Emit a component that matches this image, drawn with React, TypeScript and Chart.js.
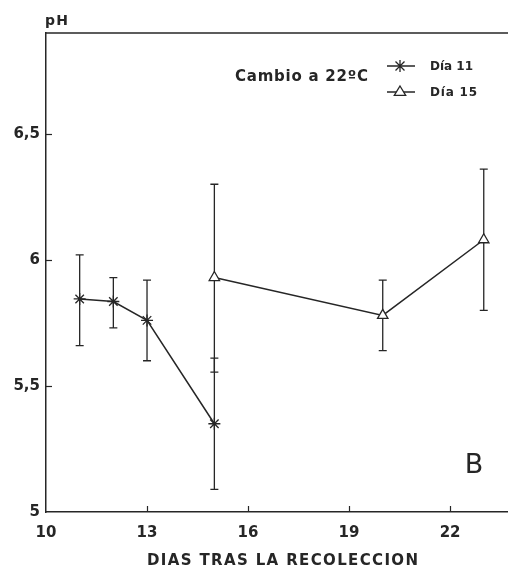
import React, { useEffect, useRef } from "react";
import { Chart, registerables } from "chart.js";

Chart.register(...registerables);

// ---- data ----
const xTickValues = [10, 13, 16, 19, 22];
const yTickValues = [5, 5.5, 6, 6.5];

const seriesNames = ["Día 11", "Día 15"];

const days11 = [11, 12, 13, 15];
const ph11 = [5.845, 5.835, 5.76, 5.35];
const ph11Low = [5.66, 5.73, 5.6, 5.09];
const ph11High = [6.02, 5.93, 5.92, 5.61];

const days15 = [15, 20, 23];
const ph15 = [5.93, 5.78, 6.08];
const ph15Low = [5.555, 5.64, 5.8];
const ph15High = [6.3, 5.92, 6.36];

const legendTitle = "Cambio a 22ºC";
const yAxisLabel = "pH";
const xAxisLabel = "DIAS TRAS LA RECOLECCION";
const panelLetter = "B";

const INK = "#262626";
const FONT = '"DejaVu Sans", "Liberation Sans", Arial, sans-serif';

function fitText(ctx: CanvasRenderingContext2D, text: string, x: number, y: number, width: number) {
  (ctx as any).letterSpacing = "0px";
  const w = ctx.measureText(text).width;
  const n = Math.max(1, text.length - 1);
  const ls = (width - w) / n;
  (ctx as any).letterSpacing = ls.toFixed(2) + "px";
  ctx.textAlign = "left";
  ctx.fillText(text, x, y);
  (ctx as any).letterSpacing = "0px";
}

function drawStar(ctx: CanvasRenderingContext2D, x: number, y: number, r: number) {
  ctx.beginPath();
  ctx.moveTo(x, y - r);
  ctx.lineTo(x, y + r);
  const d = r * 0.75;
  ctx.moveTo(x - d, y - d);
  ctx.lineTo(x + d, y + d);
  ctx.moveTo(x - d, y + d);
  ctx.lineTo(x + d, y - d);
  ctx.stroke();
}

function drawTriangle(ctx: CanvasRenderingContext2D, x: number, y: number, r: number) {
  ctx.beginPath();
  ctx.moveTo(x, y - r);
  ctx.lineTo(x + r * 0.95, y + r * 0.55);
  ctx.lineTo(x - r * 0.95, y + r * 0.55);
  ctx.closePath();
  ctx.fillStyle = "#fff";
  ctx.fill();
  ctx.stroke();
}

const decorPlugin = {
  id: "decor",
  beforeDraw(chart: any) {
    const { ctx, width, height } = chart;
    ctx.save();
    ctx.fillStyle = "#fff";
    ctx.fillRect(0, 0, width, height);
    ctx.restore();
  },
  beforeDatasetsDraw(chart: any) {
    const { ctx, chartArea, scales } = chart;
    const xs = scales.x;
    const ys = scales.y;
    ctx.save();
    ctx.strokeStyle = INK;
    ctx.lineWidth = 1.5;
    // top border
    ctx.beginPath();
    ctx.moveTo(chartArea.left, chartArea.top);
    ctx.lineTo(chartArea.right, chartArea.top);
    ctx.stroke();
    // inward ticks
    ctx.lineWidth = 1.2;
    xTickValues.forEach((v) => {
      if (v === xTickValues[0]) return;
      const px = Math.round(xs.getPixelForValue(v)) + 0.5;
      ctx.beginPath();
      ctx.moveTo(px, chartArea.bottom);
      ctx.lineTo(px, chartArea.bottom - 6);
      ctx.stroke();
    });
    yTickValues.forEach((v) => {
      if (v === yTickValues[0]) return;
      const py = Math.round(ys.getPixelForValue(v)) + 0.5;
      ctx.beginPath();
      ctx.moveTo(chartArea.left, py);
      ctx.lineTo(chartArea.left + 6, py);
      ctx.stroke();
    });
    // error bars
    const drawBars = (xv: number[], lo: number[], hi: number[]) => {
      xv.forEach((d, i) => {
        const px = xs.getPixelForValue(d);
        const pl = ys.getPixelForValue(lo[i]);
        const ph = ys.getPixelForValue(hi[i]);
        ctx.beginPath();
        ctx.moveTo(px, pl);
        ctx.lineTo(px, ph);
        ctx.moveTo(px - 4, pl);
        ctx.lineTo(px + 4, pl);
        ctx.moveTo(px - 4, ph);
        ctx.lineTo(px + 4, ph);
        ctx.stroke();
      });
    };
    ctx.lineWidth = 1.3;
    drawBars(days11, ph11Low, ph11High);
    drawBars(days15, ph15Low, ph15High);
    ctx.restore();
  },
  afterDraw(chart: any) {
    const { ctx } = chart;
    ctx.save();
    ctx.fillStyle = INK;
    ctx.textBaseline = "middle";
    // pH label
    ctx.font = `bold 14px ${FONT}`;
    fitText(ctx, yAxisLabel, 45, 21, 23);
    // legend title
    ctx.font = `bold 15px ${FONT}`;
    fitText(ctx, legendTitle, 235, 77, 133);
    // legend items
    ctx.strokeStyle = INK;
    ctx.lineWidth = 1.3;
    ctx.beginPath();
    ctx.moveTo(387, 66);
    ctx.lineTo(415, 66);
    ctx.moveTo(387, 92);
    ctx.lineTo(415, 92);
    ctx.stroke();
    drawStar(ctx, 400, 66, 6);
    drawTriangle(ctx, 400, 92, 6);
    ctx.fillStyle = INK;
    ctx.font = `bold 12px ${FONT}`;
    fitText(ctx, seriesNames[0], 430, 67, 43);
    fitText(ctx, seriesNames[1], 430, 93, 47);
    // panel letter
    ctx.font = `27px ${FONT}`;
    ctx.textAlign = "center";
    ctx.fillText(panelLetter, 474, 466);
    // x axis title
    ctx.font = `bold 15px ${FONT}`;
    fitText(ctx, xAxisLabel, 147, 561, 271);
    ctx.restore();
  },
};

export default function App() {
  const ref = useRef<HTMLCanvasElement | null>(null);
  useEffect(() => {
    if (!ref.current) return;
    const chart = new Chart(ref.current, {
      type: "scatter",
      data: {
        datasets: [
          {
            label: seriesNames[0],
            data: days11.map((d, i) => ({ x: d, y: ph11[i] })),
            showLine: true,
            borderColor: INK,
            borderWidth: 1.5,
            pointStyle: "star",
            pointRadius: 6,
            pointBorderWidth: 1.3,
            pointBorderColor: INK,
            pointBackgroundColor: INK,
          },
          {
            label: seriesNames[1],
            data: days15.map((d, i) => ({ x: d, y: ph15[i] })),
            showLine: true,
            borderColor: INK,
            borderWidth: 1.5,
            pointStyle: "triangle",
            pointRadius: 6,
            pointBorderWidth: 1.3,
            pointBorderColor: INK,
            pointBackgroundColor: "#fff",
          },
        ],
      },
      options: {
        animation: false,
        responsive: true,
        maintainAspectRatio: false,
        layout: { autoPadding: false, padding: { top: 33, left: 0, right: 0, bottom: 0 } },
        plugins: {
          legend: { display: false },
          tooltip: { enabled: false },
        },
        scales: {
          x: {
            type: "linear",
            min: 10,
            max: 23.72,
            afterBuildTicks: (s: any) => {
              s.ticks = xTickValues.map((v) => ({ value: v }));
            },
            afterFit: (s: any) => {
              s.height = 59;
              s.paddingRight = 0;
              s.paddingLeft = 0;
            },
            grid: { drawOnChartArea: false, drawTicks: false },
            border: { display: true, color: INK, width: 1.5 },
            ticks: {
              padding: 12,
              color: INK,
              font: { family: FONT, size: 15, weight: "bold" },
              maxRotation: 0,
            },
          },
          y: {
            type: "linear",
            min: 5,
            max: 6.9,
            afterBuildTicks: (s: any) => {
              s.ticks = yTickValues.map((v) => ({ value: v }));
            },
            afterFit: (s: any) => {
              s.width = 46;
            },
            grid: { drawOnChartArea: false, drawTicks: false },
            border: { display: true, color: INK, width: 1.5 },
            ticks: {
              padding: 6,
              color: INK,
              font: { family: FONT, size: 15, weight: "bold" },
              callback: (v: any) => String(v).replace(".", ","),
            },
          },
        },
      },
      plugins: [decorPlugin],
    });
    return () => chart.destroy();
  }, []);
  return (
    <div style={{ position: "absolute", left: 0, top: 0, width: 508, height: 571, background: "#fff" }}>
      <canvas ref={ref} />
    </div>
  );
}
